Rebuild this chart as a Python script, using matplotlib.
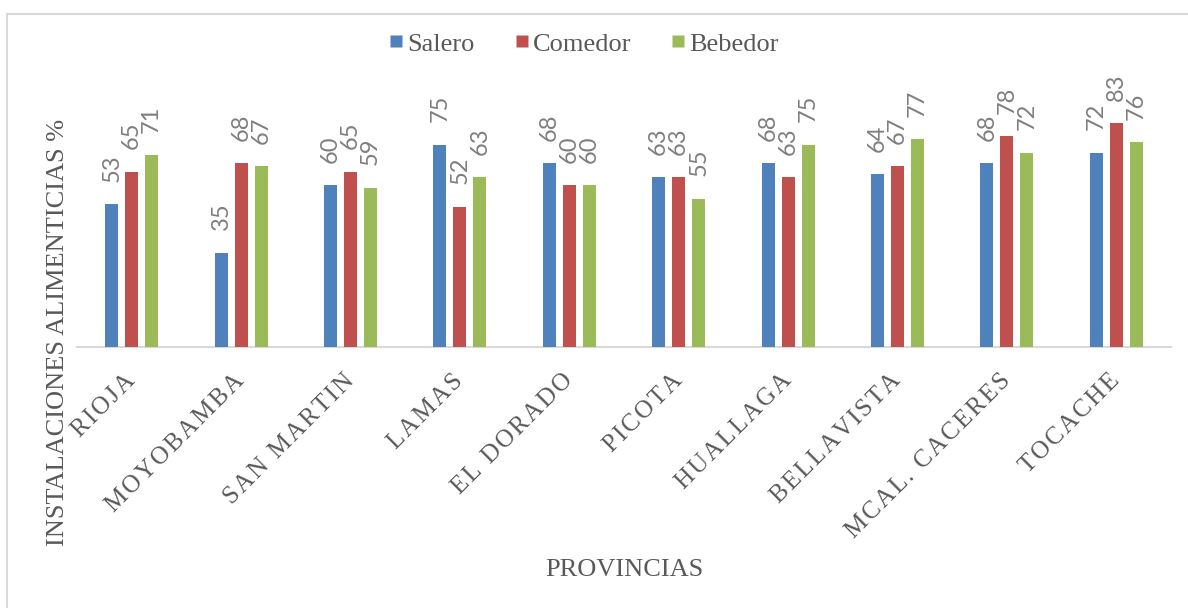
import numpy as np
import matplotlib
matplotlib.use("Agg")
import matplotlib.pyplot as plt
from matplotlib.lines import Line2D
from matplotlib.patches import Rectangle

# datos
provincias = ["RIOJA", "MOYOBAMBA", "SAN MARTIN", "LAMAS", "EL DORADO",
              "PICOTA", "HUALLAGA", "BELLAVISTA", "MCAL. CACERES", "TOCACHE"]
series = ["Salero", "Comedor", "Bebedor"]
salero = [53, 35, 60, 75, 68, 63, 68, 64, 68, 72]
comedor = [65, 68, 65, 52, 60, 63, 63, 67, 78, 83]
bebedor = [71, 67, 59, 63, 60, 55, 75, 77, 72, 76]
colores = ["#4F81BD", "#C0504D", "#9BBB59"]

W, H = 1188, 608
fig = plt.figure(figsize=(W / 100, H / 100), dpi=100)
fig.patch.set_facecolor("white")

# marco del grafico
fig.patches.append(Rectangle((7 / W, -0.1), 2, 1 - 14 / H + 0.1, transform=fig.transFigure,
                             fill=False, edgecolor="#d9d9d9", lw=1.5))

ax = fig.add_axes([77 / W, 1 - 347 / H, 1094 / W, 270 / H])
x = np.arange(len(provincias))
paso = 20 / 109.4
ancho = 13 / 109.4
for k, vals in enumerate([salero, comedor, bebedor]):
    pos = x + (k - 1) * paso
    ax.bar(pos, vals, width=ancho, color=colores[k], edgecolor="none", zorder=3)
    for xi, v in zip(pos, vals):
        ax.annotate(str(v), (xi, v), xytext=(0, 16), textcoords="offset points",
                    rotation=90, ha="center", va="bottom", fontsize=17,
                    color="#7f7f7f", family=["Lato", "DejaVu Sans"])

ax.set_xlim(-0.5, len(provincias) - 0.5)
ax.set_ylim(0, 100)
for s in ["top", "right", "left"]:
    ax.spines[s].set_visible(False)
ax.spines["bottom"].set_color("#d9d9d9")
ax.spines["bottom"].set_linewidth(1.5)
ax.set_yticks([])
ax.set_xticks(x)
# espaciado entre letras como en el original
etiquetas = ["\u200a".join(p) for p in provincias]
ax.set_xticklabels(etiquetas, rotation=45, ha="right", va="center", rotation_mode="anchor",
                   fontsize=18, family=["Liberation Serif", "DejaVu Serif"], color="#595959")
ax.tick_params(axis="x", length=0, pad=22)

fig.text(58 / W, 1 - 332 / H, "INSTALACIONES ALIMENTICIAS %", rotation=90,
         ha="center", va="center", fontsize=19, family="Liberation Serif", color="#595959")
fig.text(624 / W, 1 - 570 / H, "PROVINCIAS", ha="center", va="center",
         fontsize=19, family="Liberation Serif", color="#595959")

handles = [Line2D([], [], marker="s", linestyle="none", markersize=9,
                  markerfacecolor=c, markeredgecolor="none") for c in colores]
fig.legend(handles, series, loc="center", bbox_to_anchor=(584 / W, 1 - 44 / H), ncol=3,
           frameon=False, prop={"family": "Liberation Serif", "size": 19},
           labelcolor="#595959", handlelength=0.55, handletextpad=0.15, columnspacing=1.5)

fig.savefig("out.png", dpi=100)
